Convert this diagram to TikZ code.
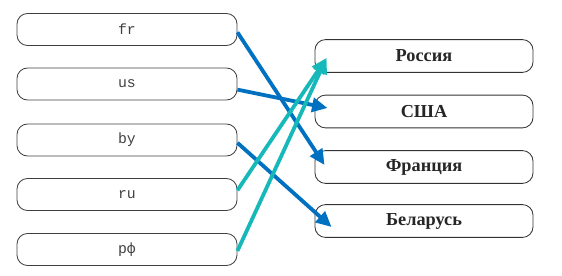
\documentclass[tikz,border=0pt]{standalone}
\usepackage{fontspec}
\setmainfont{Liberation Serif}
\setmonofont{Liberation Mono}
\usetikzlibrary{arrows.meta,positioning}

\definecolor{arrblue}{RGB}{0,112,192}
\definecolor{arrcyan}{RGB}{22,184,186}

\begin{document}
\begin{tikzpicture}[
  x=0.025cm, y=-0.025cm,
  codebox/.style={draw=black!75, line width=0.6pt, rounded corners=7.5pt, minimum width=5.5cm, minimum height=0.8cm, inner sep=0pt, font=\ttfamily\fontsize{10.5}{12}\selectfont, text=black!75},
  namebox/.style={draw=black!80, line width=0.6pt, rounded corners=7.5pt, minimum width=5.45cm, minimum height=0.82cm, inner sep=0pt, font=\bfseries\fontsize{13}{15}\selectfont, text=black!85},
  blueedge/.style={draw=arrblue, line width=2.7pt, -{Triangle[length=11pt,width=10pt]}},
  cyanedge/.style={draw=arrcyan, line width=2.7pt, -{Triangle[length=11pt,width=10pt]}}
]
\useasboundingbox (0,0) rectangle (562,276);

\node[codebox] (nfr) at (127, 29.5) {fr};
\node[codebox] (nus) at (127, 84) {us};
\node[codebox] (nby) at (127, 140) {by};
\node[codebox] (nru) at (127, 194.5) {ru};
\node[codebox] (nrf) at (127, 249.5) {рф};

\node[namebox] (crus) at (424, 56) {Россия};
\node[namebox] (cusa) at (424, 111.5) {США};
\node[namebox] (cfra) at (424, 167) {Франция};
\node[namebox] (cblr) at (424, 221) {Беларусь};

\draw[blueedge] ([yshift=-2]nfr.east) -- ([shift={(10,-2)}]cfra.west);
\draw[blueedge] ([yshift=-4]nus.east) -- ([shift={(13,-3.5)}]cusa.west);
\draw[blueedge] ([yshift=-2]nby.east) -- ([shift={(17,6)}]cblr.west);
\draw[cyanedge] ([yshift=3]nru.east) -- ([shift={(12,2)}]crus.west);
\draw[cyanedge] ([yshift=-1]nrf.east) -- ([shift={(12,2)}]crus.west);

\end{tikzpicture}
\end{document}
